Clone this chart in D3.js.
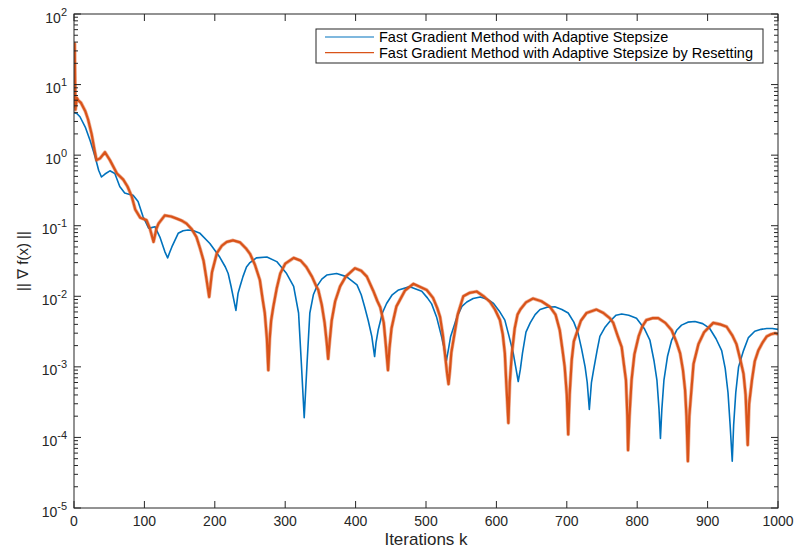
<!DOCTYPE html>
<html><head><meta charset="utf-8">
<script src="https://cdn.jsdelivr.net/npm/d3@7"></script>
<style>
body{margin:0;background:#fff;}
svg{display:block;font-family:"Liberation Sans",Arial,Helvetica,sans-serif;}
</style></head><body>
<svg id="chart" width="796" height="549"></svg>
<script>
// ---- data (iteration k, ||grad f||) ----
const seriesNames = ["Fast Gradient Method with Adaptive Stepsize",
                     "Fast Gradient Method with Adaptive Stepsize by Resetting"];
const xTicks = [0,100,200,300,400,500,600,700,800,900,1000];
const yExponents = [2,1,0,-1,-2,-3,-4,-5];

const blueK = [0,4,8.5,16,23,30,35,39,44,51,58,65,72,78,84,91,98,106,110,115,122,129,133,136,139,148,155,162,170,179,193,207,215,219,223,226,230,233,236,240,245,250,259,274,288,302,312,319,323,327,331,335,340,345,352,359,373,387,402,408,413,418,423,427,429,432,438,444,452,461,477,494,502,508,515,522,526,529,532,535,544,551,558,567,577,587,596,604,612,618,624,628,631,634,637,642,648,655,662,672,683,693,702,710,716,721,726,729,732,735,738,743,747,754,761,770,778,788,799,810,818,824,828,831,833,835,838,843,849,856,863,872,882,893,903,912,920,925,929,932,935,937,940,944,951,958,967,976,984,992,1000];
const blueV = [4.0,3.9,3.5,2.5,1.6,0.95,0.61,0.49,0.54,0.6,0.55,0.36,0.29,0.28,0.27,0.22,0.135,0.092,0.094,0.097,0.069,0.043,0.035,0.042,0.05,0.078,0.085,0.087,0.085,0.078,0.056,0.036,0.026,0.021,0.014,0.01,0.0063,0.011,0.014,0.019,0.026,0.03,0.035,0.036,0.031,0.021,0.0138,0.0058,0.0011,0.00019,0.0011,0.0058,0.0105,0.0138,0.0175,0.020,0.021,0.019,0.0145,0.0105,0.007,0.0045,0.0027,0.0014,0.0022,0.0033,0.0058,0.0079,0.0105,0.0123,0.0137,0.0118,0.0095,0.0078,0.0051,0.0027,0.0018,0.00123,0.0018,0.0027,0.0051,0.0072,0.0083,0.0093,0.0098,0.0091,0.0079,0.0062,0.0046,0.0027,0.00155,0.00092,0.00062,0.00092,0.00155,0.0031,0.0042,0.0055,0.0065,0.007,0.0071,0.0065,0.0058,0.0043,0.003,0.0018,0.001,0.0006,0.00025,0.0006,0.0009,0.0017,0.0027,0.0036,0.0044,0.0054,0.0056,0.0054,0.0049,0.0035,0.0024,0.0012,0.00065,0.00025,0.000097,0.00025,0.00065,0.0014,0.0024,0.0033,0.0039,0.0043,0.0044,0.0041,0.0035,0.0025,0.0017,0.00095,0.00043,0.00015,0.000046,0.00015,0.00043,0.001,0.0017,0.0026,0.0032,0.0034,0.0035,0.0035,0.0034];

const orangeK = [0,1,2,4,6,10,16,20,25,29,32,37,44,51,61,70,76,82,87,94,103,108,113,117,120,129,138,146,153,160,167,174,179,184,188,192,196,203,210,217,226,236,244,250,257,264,268,271,274,276,278,280,283,288,293,300,312,322,330,338,344,347,352,356,359,361,363,366,371,378,386,399,408,416,425,431,435,440,443,446,448,451,454,458,463,470,482,492,501,510,516,520,524,527,530,532,534,536,539,545,553,562,572,582,591,598,605,609,612,614,617,619,622,626,630,634,642,652,664,676,684,690,694,697,700,702,704,707,710,714,720,728,742,752,761,766,772,778,781,784,786,787,789,792,796,802,807,813,822,830,840,849,856,861,865,868,870,872,874,877,880,887,895,908,918,927,935,941,947,951,954,957,959,963,967,972,978,984,990,996,1000];
const orangeV = [4.6,38,4.4,6.5,6.0,5.5,4.2,3.2,2.0,1.2,0.85,0.9,1.1,0.85,0.55,0.45,0.36,0.26,0.17,0.13,0.12,0.09,0.059,0.09,0.107,0.14,0.135,0.126,0.118,0.107,0.09,0.069,0.048,0.032,0.018,0.0098,0.022,0.041,0.052,0.059,0.062,0.058,0.048,0.04,0.028,0.017,0.009,0.0058,0.0025,0.0009,0.0025,0.0045,0.007,0.013,0.021,0.029,0.035,0.032,0.026,0.019,0.014,0.0123,0.0075,0.0042,0.0022,0.0013,0.0022,0.0045,0.0085,0.0138,0.019,0.025,0.023,0.019,0.012,0.0085,0.007,0.0042,0.002,0.0009,0.0018,0.0035,0.0048,0.0072,0.0089,0.012,0.015,0.0135,0.0123,0.0095,0.0068,0.0051,0.0028,0.0015,0.0008,0.00057,0.0009,0.0016,0.0024,0.0055,0.0100,0.0112,0.0117,0.0100,0.0083,0.0065,0.0046,0.0029,0.00155,0.0006,0.00016,0.0006,0.00155,0.0035,0.0055,0.0065,0.0082,0.0093,0.0085,0.0071,0.0055,0.0033,0.0017,0.001,0.0004,0.00011,0.0004,0.00126,0.0023,0.003,0.0045,0.0058,0.0065,0.0058,0.0049,0.0042,0.0028,0.0019,0.0011,0.00065,0.0002,0.000066,0.0002,0.00065,0.0015,0.0027,0.0037,0.0046,0.0049,0.0049,0.0042,0.0033,0.0022,0.00155,0.0009,0.00047,0.0002,0.000046,0.0002,0.00047,0.0011,0.0021,0.0031,0.0042,0.0040,0.0037,0.0028,0.0021,0.0012,0.0008,0.0004,0.000078,0.0003,0.00065,0.0012,0.0017,0.0022,0.0027,0.0029,0.003,0.0029];

const colors = ["#0072BD","#D95319"];
const axisColor = "#262626";

// ---- layout ----
const L = 74, R = 778, T = 14, B = 508;
const svg = d3.select("#chart");
const x = d3.scaleLinear().domain([0,1000]).range([L,R]);
const y = d3.scaleLog().domain([1e-5,1e2]).range([B,T]);

svg.append("clipPath").attr("id","clip").append("rect")
  .attr("x",L).attr("y",T).attr("width",R-L).attr("height",B-T);

const line = d3.line().x(d=>x(d[0])).y(d=>y(d[1]));
const blue = blueK.map((k,i)=>[k,blueV[i]]);
const orange = orangeK.map((k,i)=>[k,orangeV[i]]);

const g = svg.append("g").attr("clip-path","url(#clip)");
g.append("path").datum(blue).attr("d",line).attr("fill","none")
  .attr("stroke",colors[0]).attr("stroke-width",1.6).attr("stroke-linejoin","round");
// soft halo + core to mimic the noisy band of the reset variant
g.append("path").datum(orange).attr("d",line).attr("fill","none")
  .attr("stroke",colors[1]).attr("stroke-opacity",0.45).attr("stroke-width",3.6).attr("stroke-linejoin","round");
g.append("path").datum(orange).attr("d",line).attr("fill","none")
  .attr("stroke",colors[1]).attr("stroke-width",2.2).attr("stroke-linejoin","round");

// ---- axes (box, inward ticks) ----
const majorY = yExponents.map(e=>Math.pow(10,e));
const minorY = [];
for (let e=-5;e<2;e++) for (let m=2;m<=9;m++) minorY.push(m*Math.pow(10,e));

const axG = svg.append("g").attr("stroke",axisColor).attr("fill","none");
axG.append("rect").attr("x",L).attr("y",T).attr("width",R-L).attr("height",B-T).attr("stroke-width",1);
xTicks.forEach(v=>{
  axG.append("line").attr("x1",x(v)).attr("x2",x(v)).attr("y1",B).attr("y2",B-7);
  axG.append("line").attr("x1",x(v)).attr("x2",x(v)).attr("y1",T).attr("y2",T+7);
});
majorY.forEach(v=>{
  axG.append("line").attr("x1",L).attr("x2",L+7).attr("y1",y(v)).attr("y2",y(v));
  axG.append("line").attr("x1",R).attr("x2",R-7).attr("y1",y(v)).attr("y2",y(v));
});
minorY.forEach(v=>{
  axG.append("line").attr("x1",L).attr("x2",L+4).attr("y1",y(v)).attr("y2",y(v));
  axG.append("line").attr("x1",R).attr("x2",R-4).attr("y1",y(v)).attr("y2",y(v));
});

// tick labels
svg.append("g").selectAll("text").data(xTicks).join("text")
  .attr("x",d=>x(d)).attr("y",B+18).attr("text-anchor","middle")
  .attr("font-size",14).attr("fill",axisColor).text(d=>d);

const yl = svg.append("g").selectAll("text").data(yExponents).join("text")
  .attr("x",67).attr("y",e=>y(Math.pow(10,e))+8.5).attr("text-anchor","end")
  .attr("font-size",14).attr("fill",axisColor);
yl.append("tspan").text("10");
yl.append("tspan").attr("font-size",11).attr("dy",-7).text(e=>e);

// axis titles
svg.append("text").attr("x",(L+R)/2).attr("y",545).attr("text-anchor","middle")
  .attr("font-size",17).attr("fill",axisColor).text("Iterations k");
svg.append("text").attr("transform",`translate(28,${(T+B)/2}) rotate(-90)`)
  .attr("text-anchor","middle").attr("font-size",15).attr("fill",axisColor)
  .text("|| \u2207 f(x) ||");

// ---- legend ----
const lg = svg.append("g");
lg.append("rect").attr("x",316).attr("y",29).attr("width",447).attr("height",34)
  .attr("fill","#fff").attr("stroke",axisColor).attr("stroke-width",1);
seriesNames.forEach((name,i)=>{
  const yy = 37 + i*15.6;
  lg.append("line").attr("x1",325).attr("x2",374).attr("y1",yy).attr("y2",yy)
    .attr("stroke",colors[i]).attr("stroke-width",1.2);
  lg.append("text").attr("x",379).attr("y",yy+5).attr("font-size",14.5)
    .attr("fill","#000").text(name);
});
</script>
</body></html>
